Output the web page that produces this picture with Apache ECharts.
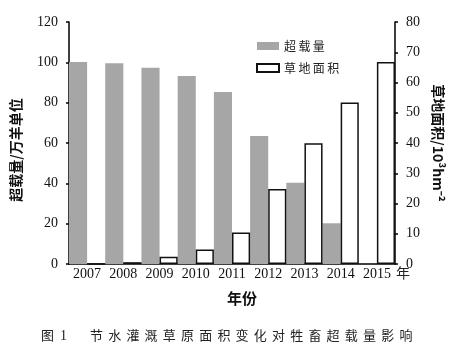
<!DOCTYPE html>
<html><head><meta charset="utf-8">
<script src="https://cdn.jsdelivr.net/npm/echarts@6/dist/echarts.min.js"></script>
<style>html,body{margin:0;padding:0;background:#fff}#c{width:464px;height:355px}</style>
</head><body><div id="c"></div>
<script>
const years = ['2007','2008','2009','2010','2011','2012','2013','2014','2015'];
const overload = [100.2, 99.6, 97.3, 93.2, 85.3, 63.5, 40.3, 20.2, 0];
const grassArea = [0, 0.6, 2.4, 4.8, 10.4, 24.8, 39.9, 53.4, 66.8];
const leftTicks = {min: 0, max: 120, interval: 20};
const rightTicks = {min: 0, max: 80, interval: 10};
const seriesNames = ['超载量', '草地面积'];
const caption = '节水灌溉草原面积变化对牲畜超载量影响';

const serif = 'Liberation Serif';
const cjk = 'Noto Sans CJK SC';
const chart = echarts.init(document.getElementById('c'));

const capGraphics = [{type:'text', left: 41, top: 329, style:{text:'图', font:'13px "' + cjk + '"', fill:'#222'}},
  {type:'text', left: 60, top: 329, style:{text:'1', font:'14px "' + serif + '"', fill:'#222'}}];
caption.split('').forEach((ch, i) => {
  capGraphics.push({type:'text', left: 90 + i * 18.2, top: 329, style:{text: ch, font:'13px "' + cjk + '"', fill:'#222'}});
});

chart.setOption({
  animation: false,
  grid: {left: 69, right: 69, top: 22, bottom: 91},
  legend: {
    orient: 'vertical', left: 251, top: 35, itemWidth: 22, itemHeight: 8, itemGap: 10,
    icon: 'rect',
    formatter: n => n.split('').join('\u2009'),
    textStyle: {fontFamily: cjk, fontSize: 12, color: '#222'},
    data: seriesNames
  },
  xAxis: {
    type: 'category', data: years,
    name: '年', nameLocation: 'end', nameGap: 1, nameMoveOverlap: false,
    nameTextStyle: {fontFamily: cjk, fontSize: 14, color: '#222', verticalAlign: 'top', padding: [2, 0, 0, 0]},
    axisLine: {lineStyle: {color: '#000', width: 1.5}},
    axisTick: {show: false},
    axisLabel: {fontFamily: serif, fontSize: 14, color: '#111', margin: 3, interval: 0}
  },
  yAxis: [{
    type: 'value', min: leftTicks.min, max: leftTicks.max, interval: leftTicks.interval,
    name: '超载量/万羊单位', nameLocation: 'middle', nameGap: 46, nameRotate: 90,
    nameTextStyle: {fontFamily: cjk, fontSize: 14, fontWeight: 'bold', color: '#111', padding: [0, 14, 0, 0]},
    axisLine: {show: true, lineStyle: {color: '#000', width: 1.5}},
    axisTick: {show: true, length: 3, lineStyle: {color: '#000', width: 1.5}},
    splitLine: {show: false},
    axisLabel: {fontFamily: serif, fontSize: 14, color: '#111', margin: 11}
  }, {
    type: 'value', position: 'right', min: rightTicks.min, max: rightTicks.max, interval: rightTicks.interval,
    name: '草地面积/10³hm⁻²', nameLocation: 'middle', nameGap: 33, nameRotate: -90,
    nameTextStyle: {fontFamily: cjk, fontSize: 14, fontWeight: 'bold', color: '#111'},
    axisLine: {show: true, lineStyle: {color: '#000', width: 1.5}},
    axisTick: {show: true, length: 3, lineStyle: {color: '#000', width: 1.5}},
    splitLine: {show: false},
    axisLabel: {fontFamily: serif, fontSize: 14, color: '#111', margin: 11}
  }],
  series: [{
    name: seriesNames[0], type: 'bar', yAxisIndex: 0, data: overload,
    barGap: '0%', barCategoryGap: '0%',
    itemStyle: {color: '#a6a6a6'}
  }, {
    name: seriesNames[1], type: 'bar', yAxisIndex: 1, data: grassArea,
    barGap: '0%', barCategoryGap: '0%',
    itemStyle: {color: '#fff', borderColor: '#111', borderWidth: 1.5}
  }],
  graphic: [{type:'text', left: 227, top: 291, style:{text:'年份', font:'bold 15px "' + cjk + '"', fill:'#111'}}].concat(capGraphics)
});
</script></body></html>
